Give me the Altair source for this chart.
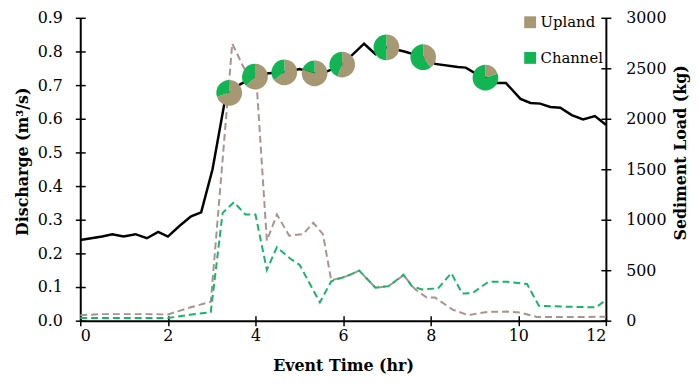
import altair as alt
import pandas as pd

# Discharge (m3/s)
q_time = [0, 0.25, 0.5, 0.73, 0.99, 1.26, 1.52, 1.78, 2.0, 2.27, 2.53, 2.76, 3.02, 3.29, 3.40,
          3.66, 3.99, 4.30, 4.66, 5.01, 5.35, 5.64, 5.98, 6.48, 6.74, 6.99, 7.40, 7.83, 8.10,
          8.62, 8.80, 9.02, 9.25, 9.49, 9.72, 10.05, 10.28, 10.50, 10.73, 10.96, 11.22, 11.48,
          11.75, 12.0]
q_val = [0.240, 0.245, 0.250, 0.257, 0.250, 0.257, 0.245, 0.264, 0.250, 0.282, 0.310, 0.322,
         0.450, 0.645, 0.677, 0.703, 0.725, 0.735, 0.738, 0.748, 0.735, 0.741, 0.761, 0.823,
         0.792, 0.812, 0.800, 0.783, 0.763, 0.754, 0.752, 0.735, 0.722, 0.706, 0.706, 0.659,
         0.647, 0.645, 0.635, 0.633, 0.611, 0.598, 0.608, 0.582]

# Upland sediment load (kg)
u_time = [0, 0.5, 1.0, 1.5, 2.0, 2.5, 2.98, 3.47, 3.70, 4.04, 4.26, 4.49, 4.77, 5.09, 5.32,
          5.54, 5.73, 6.07, 6.37, 6.74, 7.04, 7.38, 7.65, 7.91, 8.10, 8.50, 8.85, 9.30, 9.75,
          10.05, 10.43, 11.0, 11.5, 12.0]
u_val = [55, 65, 65, 65, 62, 130, 187, 2745, 2535, 2261, 793, 1052, 842, 858, 970, 858, 400,
         439, 496, 326, 342, 450, 310, 229, 229, 110, 55, 87, 90, 80, 36, 36, 36, 40]

# Channel sediment load (kg)
c_time = [0, 0.5, 1.0, 1.5, 2.0, 2.5, 2.98, 3.25, 3.51, 3.77, 4.00, 4.26, 4.49, 4.79, 5.01,
          5.47, 5.73, 6.07, 6.37, 6.74, 7.04, 7.38, 7.57, 7.80, 8.17, 8.47, 8.72, 8.95, 9.32,
          9.75, 10.20, 10.47, 11.0, 11.5, 11.78, 12.0]
c_val = [26, 26, 26, 26, 26, 58, 84, 1068, 1174, 1052, 1052, 503, 729, 616, 552, 181, 390,
         439, 496, 326, 342, 455, 342, 310, 320, 471, 270, 272, 385, 385, 363, 148, 140, 135,
         132, 205]

# Pie glyphs: time, discharge, upland fraction of sediment
pie_time = [3.40, 3.99, 4.66, 5.35, 5.98, 6.99, 7.83, 9.25]
pie_q = [0.677, 0.725, 0.738, 0.735, 0.761, 0.812, 0.783, 0.722]
pie_upland = [0.70, 0.62, 0.65, 0.80, 0.56, 0.50, 0.40, 0.20]

parts = ["Upland", "Channel"]
x_ticks = [0, 2, 4, 6, 8, 10, 12]
q_ticks = [0, 0.1, 0.2, 0.3, 0.4, 0.5, 0.6, 0.7, 0.8, 0.9]
s_ticks = [0, 500, 1000, 1500, 2000, 2500, 3000]

TAN = "#A59873"
GREEN = "#12B553"
UP_LINE = "#A8948E"
CH_LINE = "#19B46A"
FONT = "DejaVu Serif"

W, H = 531, 306

df_q = pd.DataFrame({"t": q_time, "q": q_val})
df_u = pd.DataFrame({"t": u_time, "s": u_val})
df_c = pd.DataFrame({"t": c_time, "s": c_val})
rows = []
for t, q, f in zip(pie_time, pie_q, pie_upland):
    rows.append({"t": t, "q": q, "part": "Upland", "a0": 0.0, "a1": f})
    rows.append({"t": t, "q": q, "part": "Channel", "a0": f, "a1": 1.0})
df_p = pd.DataFrame(rows)

xs = alt.Scale(domain=[0, 12], nice=False, zero=False)
qs = alt.Scale(domain=[0, 0.9], nice=False)
ss = alt.Scale(domain=[0, 3000], nice=False)

inner = dict(labels=False, domain=False, title=None, ticks=True, tickSize=5, grid=False)

# Upland dashed line: right sediment axis with labels, inner x ticks
upland = alt.Chart(df_u).mark_line(color=UP_LINE, strokeWidth=2, strokeDash=[7, 4]).encode(
    x=alt.X("t:Q", scale=xs,
            axis=alt.Axis(orient="top", offset=-H, values=x_ticks, **inner)),
    y=alt.Y("s:Q", scale=ss,
            axis=alt.Axis(orient="right", values=s_ticks, format="d", title="Sediment Load (kg)",
                          labelPadding=15, titleAngle=270, titleBaseline="middle",
                          titleAlign="center", titleX=75, titleY=136)),
)

channel = alt.Chart(df_c).mark_line(color=CH_LINE, strokeWidth=2, strokeDash=[7, 4]).encode(
    x=alt.X("t:Q", scale=xs, axis=None),
    y=alt.Y("s:Q", scale=ss,
            axis=alt.Axis(orient="left", offset=-W, values=s_ticks, **inner)),
)

discharge = alt.Chart(df_q).mark_line(color="black", strokeWidth=2.5).encode(
    x=alt.X("t:Q", scale=xs,
            axis=alt.Axis(orient="bottom", values=x_ticks, format="d", title="Event Time (hr)",
                          labelPadding=2, titleBaseline="top", titleY=37)),
    y=alt.Y("q:Q", scale=qs,
            axis=alt.Axis(orient="left", values=q_ticks, format=".1f",
                          title="Discharge (m³/s)", labelPadding=13, titleAngle=270,
                          titleBaseline="middle", titleAlign="center", titleX=-58, titleY=145)),
)

pies = alt.Chart(df_p).mark_arc(outerRadius=13, innerRadius=0).encode(
    x=alt.X("t:Q", scale=xs, axis=None),
    y=alt.Y("q:Q", scale=qs,
            axis=alt.Axis(orient="right", offset=-W, values=q_ticks, **inner)),
    theta=alt.Theta("a0:Q", stack=None,
                    scale=alt.Scale(domain=[0, 1], range=[0, 6.283185307])),
    theta2="a1:Q",
    color=alt.Color("part:N", scale=alt.Scale(domain=parts, range=[TAN, GREEN]),
                    legend=alt.Legend(orient="none", legendX=447, legendY=-3, title=None,
                                      symbolType="square", symbolSize=144,
                                      symbolStrokeWidth=0, symbolOpacity=1,
                                      labelFont=FONT, labelFontSize=15, labelColor="black",
                                      rowPadding=20, labelOffset=3, padding=0)),
)

chart = alt.layer(upland, channel, discharge, pies).resolve_scale(
    y="independent"
).resolve_axis(
    x="independent", y="independent"
).properties(
    width=W, height=H,
    autosize=alt.AutoSizeParams(type="none"),
    padding={"left": 73, "top": 8, "right": 86, "bottom": 57},
).configure_view(stroke=None).configure_axis(
    grid=False, labelFont=FONT, titleFont=FONT, labelFontSize=16, titleFontSize=16,
    titleFontWeight="bold", domainColor="black", tickColor="black", labelColor="black",
    titleColor="black", domainWidth=2, tickWidth=1.5, tickSize=5
)

chart.save("out.html", embed_options={"renderer": "svg", "actions": False})
